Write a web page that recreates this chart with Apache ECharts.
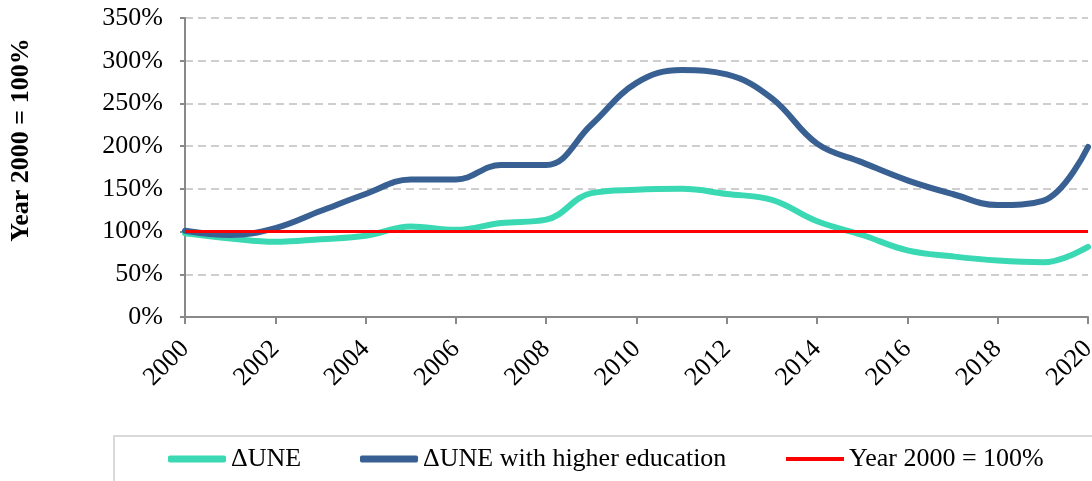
<!DOCTYPE html>
<html>
<head>
<meta charset="utf-8">
<script src="https://cdn.jsdelivr.net/npm/echarts@6/dist/echarts.min.js"></script>
<style>
  html, body { margin: 0; padding: 0; background: #ffffff; }
  #chart { width: 1092px; height: 481px; }
</style>
</head>
<body>
<div id="chart"></div>
<script>
// Years on the horizontal axis
const years = ['2000','2001','2002','2003','2004','2005','2006','2007','2008','2009','2010',
               '2011','2012','2013','2014','2015','2016','2017','2018','2019','2020'];

// Change in unemployment, indexed to year 2000 = 100 %
const une = [98, 92, 88, 91, 95, 106, 102, 110, 114, 145, 149,
             150, 144, 137, 112, 96, 78, 71, 66, 64, 82];

// Change in unemployment among people with higher education
const uneHigher = [101, 96, 104, 124, 144, 161, 161, 178, 178, 225, 274,
                   289, 284, 256, 203, 181, 160, 144, 131, 136, 199];

// Reference level
const base = [100, 100, 100, 100, 100, 100, 100, 100, 100, 100, 100,
              100, 100, 100, 100, 100, 100, 100, 100, 100, 100];

const yTicks = [0, 50, 100, 150, 200, 250, 300, 350];

const names = ['\u0394UNE', '\u0394UNE with higher education', 'Year 2000 = 100%'];
const yTitle = 'Year 2000 = 100%';
const colors = ['#3ad9b3', '#386092', '#ff0000'];

const serif = '"Liberation Serif", "DejaVu Serif", serif';

const chart = echarts.init(document.getElementById('chart'), null, { renderer: 'canvas' });

function legendAt(idx, left, height, icon) {
  return {
    data: [{ name: names[idx], icon: icon }],
    left: left,
    top: 446,
    padding: 0,
    itemWidth: 58,
    itemHeight: height,
    itemGap: 2,
    selectedMode: false,
    textStyle: { fontFamily: serif, fontSize: 26, color: '#000' }
  };
}

chart.setOption({
  animation: false,
  backgroundColor: '#ffffff',
  grid: { left: 185, right: 4, top: 18, bottom: 164, containLabel: false, outerBoundsMode: 'none' },
  graphic: [
    {
      type: 'rect',
      shape: { x: 114, y: 436, width: 1100, height: 80 },
      style: { fill: 'none', stroke: '#d9d9d9', lineWidth: 2 },
      silent: true
    },
    {
      type: 'text',
      x: 21,
      y: 140,
      rotation: Math.PI / 2,
      style: {
        text: yTitle,
        fontFamily: serif,
        fontSize: 26,
        fontWeight: 'bold',
        fill: '#000',
        align: 'center',
        verticalAlign: 'middle'
      },
      silent: true
    }
  ],
  legend: [
    legendAt(0, 168, 7, 'roundRect'),
    legendAt(1, 360, 7, 'roundRect'),
    legendAt(2, 786, 4, 'rect')
  ],
  xAxis: {
    type: 'category',
    data: years,
    boundaryGap: false,
    axisLine: { lineStyle: { color: '#898989', width: 2 } },
    axisTick: { show: true, interval: 1, length: 7, lineStyle: { color: '#898989', width: 2 } },
    axisLabel: {
      interval: 1,
      rotate: 45,
      margin: 28,
      fontFamily: serif,
      fontSize: 26,
      color: '#000'
    },
    splitLine: { show: false }
  },
  yAxis: {
    type: 'value',
    min: yTicks[0],
    max: yTicks[yTicks.length - 1],
    interval: 50,
    axisLine: { show: true, lineStyle: { color: '#898989', width: 2 } },
    axisTick: { show: true, length: 5, lineStyle: { color: '#898989', width: 2 } },
    axisLabel: {
      margin: 22,
      formatter: v => v + '%',
      fontFamily: serif,
      fontSize: 26,
      color: '#000'
    },
    splitLine: { show: true, lineStyle: { color: '#bfbfbf', width: 1.5, type: [8, 5] } }
  },
  series: [
    {
      name: names[0], type: 'line', data: une, smooth: 0.4, symbol: 'none',
      itemStyle: { color: colors[0] },
      lineStyle: { color: colors[0], width: 6, cap: 'round' }
    },
    {
      name: names[1], type: 'line', data: uneHigher, smooth: 0.4, symbol: 'none',
      itemStyle: { color: colors[1] },
      lineStyle: { color: colors[1], width: 6, cap: 'round' }
    },
    {
      name: names[2], type: 'line', data: base, symbol: 'none',
      itemStyle: { color: colors[2] },
      lineStyle: { color: colors[2], width: 3 }
    }
  ]
});
</script>
</body>
</html>
